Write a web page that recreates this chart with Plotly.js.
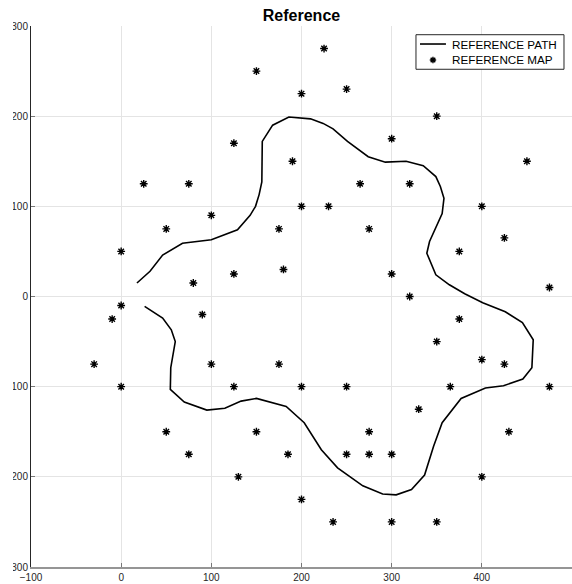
<!DOCTYPE html>
<html>
<head>
<meta charset="utf-8">
<script src="https://cdn.plot.ly/plotly-3.0.1.min.js"></script>
<style>
  html, body { margin: 0; padding: 0; background: #ffffff; }
  #chart { width: 572px; height: 584px; clip-path: inset(0 0 0 13px); }
</style>
</head>
<body>
<div id="chart"></div>
<script>
// Reference path (closed-ish outline)
const pathX = [17.5, 32, 46, 68, 100, 129, 143, 149, 153, 156, 156.5, 162, 168, 186, 210,
  224, 235, 251, 274, 293, 316, 335, 349, 354, 358, 356, 346, 342, 339, 349, 364,
  381, 401, 426, 445, 457, 455.5, 445.5, 424, 404, 377, 356, 346.5, 336.5, 322,
  305, 290, 268, 240, 222, 203, 183, 150, 133, 115, 95, 70, 54.5, 55, 60, 55.6, 46, 26];
const pathY = [15, 28, 46, 59, 63, 74, 90, 100, 113, 127, 172, 181, 190, 199, 197,
  192, 186, 172, 155, 149, 150, 145, 133, 122, 109, 92, 70, 61, 48, 24, 13,
  3, -7, -17, -29, -48, -79, -91.5, -99, -101.5, -113, -140, -166, -198, -214,
  -220, -219, -210, -190, -170, -140, -122, -113, -116, -124, -126, -117, -103, -79, -50, -37, -24, -11];

// Reference map points
const mapX = [150, 225, 200, 250, 350, 125, 190, 300, 25, 75, 265, 320, 450,
  100, 50, 175, 275, 200, 230, 400, 425, 375, 0, 125, 180, 300, 475, 80, 320,
  0, -10, 90, 375, 350, -30, 100, 175, 400, 425, 0, 125, 200, 250, 365, 475,
  330, 50, 150, 275, 430, 75, 185, 250, 275, 300, 130, 400, 200, 235, 300, 350];
const mapY = [250, 275, 225, 230, 200, 170, 150, 175, 125, 125, 125, 125, 150,
  90, 75, 75, 75, 100, 100, 100, 65, 50, 50, 25, 30, 25, 10, 15, 0,
  -10, -25, -20, -25, -50, -75, -75, -75, -70, -75, -100, -100, -100, -100, -100, -100,
  -125, -150, -150, -150, -150, -175, -175, -175, -175, -175, -200, -200, -225, -250, -250, -250];

const seriesNames = ['REFERENCE PATH', 'REFERENCE MAP'];
const xTicks = [-100, 0, 100, 200, 300, 400, 500];
const yTicks = [-300, -200, -100, 0, 100, 200, 300];

const font = 'Liberation Sans, Arial, Helvetica, sans-serif';

const traces = [
  {
    x: pathX, y: pathY, type: 'scatter', mode: 'lines',
    name: seriesNames[0],
    line: { color: '#000000', width: 1.6 }
  },
  {
    x: mapX, y: mapY, type: 'scatter', mode: 'markers',
    name: seriesNames[1],
    marker: { symbol: 'asterisk-open', size: 6.5, color: '#000000',
              line: { color: '#000000', width: 1.4 } }
  }
];

// Compact legend box in the top-right corner (paper coordinates)
const leg = { x0: 0.7116, x1: 0.9852, y0: 0.920, y1: 0.9839,
              keyX0: 0.719, keyX1: 0.767, keyMid: 0.743, textX: 0.7745,
              row1: 0.9667, row2: 0.9372 };

const shapes = [
  { type: 'rect', xref: 'paper', yref: 'paper', layer: 'above',
    x0: leg.x0, x1: leg.x1, y0: leg.y0, y1: leg.y1,
    fillcolor: '#ffffff', line: { color: '#262626', width: 1 } },
  { type: 'line', xref: 'paper', yref: 'paper', layer: 'above',
    x0: leg.keyX0, x1: leg.keyX1, y0: leg.row1, y1: leg.row1,
    line: { color: '#000000', width: 1.6 } },
  { type: 'path', xref: 'paper', yref: 'paper', layer: 'above',
    xsizemode: 'pixel', ysizemode: 'pixel', xanchor: leg.keyMid, yanchor: leg.row2,
    path: 'M-3.2,0L3.2,0M0,-3.2L0,3.2M-2.3,-2.3L2.3,2.3M-2.3,2.3L2.3,-2.3',
    line: { color: '#000000', width: 1.4 } }
];

const annotations = seriesNames.map((name, i) => ({
  text: name, xref: 'paper', yref: 'paper',
  x: leg.textX, y: i === 0 ? leg.row1 : leg.row2,
  xanchor: 'left', yanchor: 'middle', showarrow: false,
  font: { family: font, size: 11.7, color: '#000000' }
}));

const layout = {
  width: 572, height: 584,
  margin: { l: 31, r: 0, t: 26, b: 17, pad: 0 },
  paper_bgcolor: '#ffffff', plot_bgcolor: '#ffffff',
  font: { family: font, size: 10, color: '#262626' },
  title: {
    text: '<b>Reference</b>',
    font: { family: font, size: 16, color: '#000000' },
    x: 0.5, xref: 'paper', xanchor: 'center',
    y: 0.974, yref: 'container', yanchor: 'middle'
  },
  showlegend: false,
  shapes: shapes,
  annotations: annotations,
  xaxis: {
    range: [-100, 500], tickvals: xTicks, zeroline: false,
    showgrid: true, gridcolor: '#e4e4e4', gridwidth: 1,
    showline: true, linecolor: '#959595', linewidth: 2,
    ticks: 'inside', ticklen: 4, tickcolor: '#777777', tickwidth: 1,
    tickfont: { family: font, size: 10, color: '#262626' }
  },
  yaxis: {
    range: [-300, 300], tickvals: yTicks, zeroline: false,
    showgrid: true, gridcolor: '#e4e4e4', gridwidth: 1,
    showline: true, linecolor: '#262626', linewidth: 1,
    ticks: 'inside', ticklen: 4, tickcolor: '#777777', tickwidth: 1,
    tickfont: { family: font, size: 10, color: '#262626' }
  }
};

Plotly.newPlot('chart', traces, layout, { displayModeBar: false, staticPlot: true });
</script>
</body>
</html>
